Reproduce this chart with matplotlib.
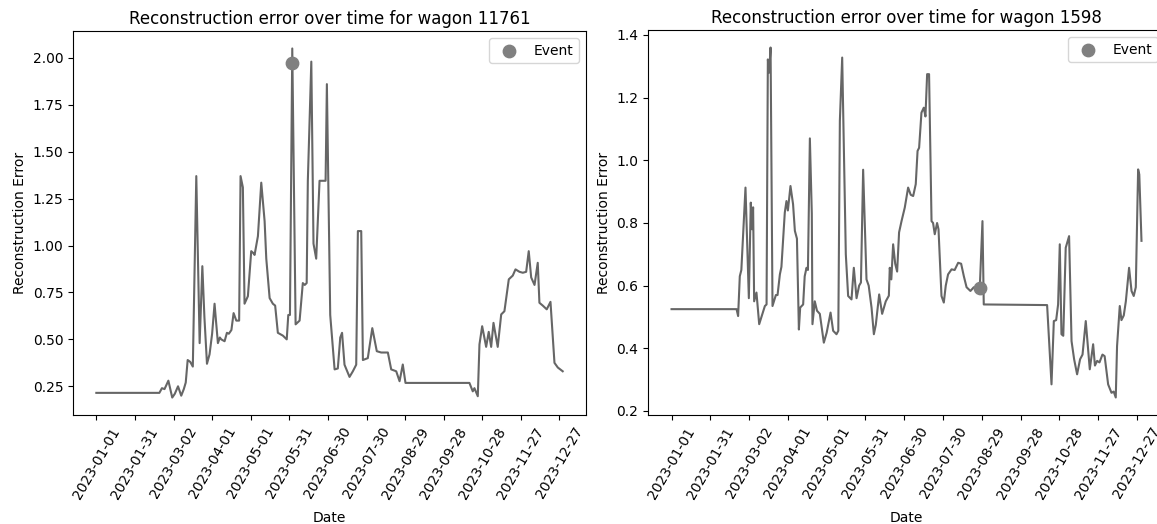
import matplotlib
matplotlib.use("Agg")
import matplotlib.pyplot as plt
import pandas as pd
import numpy as np

# ---- data (day offsets from 2023-01-01, reconstruction error) ----
start_date = "2023-01-01"

w1_title = "Reconstruction error over time for wagon 11761"
w1_days = [0, 49, 51, 53, 56, 59, 61, 63.5, 66, 68, 69.5, 71, 73, 75, 77.7, 80.3, 82.4, 84, 86, 88,
           90, 91.9, 93, 94.5, 96, 97.1, 99.7, 101.5, 103, 105, 106.7, 108.8, 111, 112.1, 113.9,
           115.2, 117.8, 120.4, 122, 123, 125.6, 128.2, 130.8, 132.1, 134.7, 137.2, 139, 141.1,
           145, 148, 149.2, 150.5, 152.3, 154.9, 158, 160.5, 162, 163.5, 164.4, 167.1, 168.8,
           170.9, 173.5, 178.2, 179.2, 181.8, 185.2, 187.7, 189.6, 191, 192.9, 196.8, 199.4, 202,
           203.3, 205.9, 207.2, 211, 214.5, 216.2, 218, 221.4, 226.6, 229.2, 233.1, 235.7, 238.2,
           240.3, 290, 292.6, 293.9, 296.5, 297.8, 299.9, 303, 305, 306.9, 308.7, 312, 314.7,
           317.2, 320.6, 323.7, 325.8, 328.9, 331.5, 334.1, 336.1, 338, 340.6, 343.1, 344.4, 347,
           350.1, 353, 356.1, 358.7, 362.5]
w1_vals = [0.215, 0.215, 0.24, 0.235, 0.28, 0.19, 0.21, 0.25, 0.20, 0.235, 0.27, 0.39, 0.38, 0.355,
           1.37, 0.48, 0.89, 0.62, 0.37, 0.42, 0.53, 0.69, 0.60, 0.48, 0.51, 0.50, 0.49, 0.535,
           0.53, 0.55, 0.64, 0.60, 0.60, 1.37, 1.31, 0.69, 0.73, 0.97, 0.96, 0.95, 1.05, 1.335,
           1.13, 0.93, 0.72, 0.69, 0.68, 0.535, 0.52, 0.50, 0.63, 0.63, 2.05, 0.58, 0.60, 0.80,
           0.79, 0.80, 1.345, 1.98, 1.01, 0.93, 1.345, 1.345, 1.86, 0.63, 0.34, 0.345, 0.51,
           0.535, 0.365, 0.30, 0.33, 0.365, 1.077, 1.077, 0.39, 0.40, 0.56, 0.50, 0.437, 0.43,
           0.43, 0.34, 0.33, 0.277, 0.366, 0.268, 0.268, 0.223, 0.24, 0.197, 0.473, 0.57, 0.46,
           0.54, 0.46, 0.588, 0.46, 0.633, 0.65, 0.82, 0.84, 0.873, 0.86, 0.855, 0.86, 0.97,
           0.83, 0.79, 0.908, 0.695, 0.68, 0.66, 0.70, 0.375, 0.35, 0.33]
w1_event_day = [152.1]
w1_event_val = [1.975]

w2_title = "Reconstruction error over time for wagon 1598"
w2_days = [0, 50.3, 51.5, 52.8, 54, 57.2, 59.8, 61.3, 62.2, 63.1, 63.9, 65.7, 67.8, 72.2, 73.5,
           74.5, 75.5, 76.6, 78.1, 80.7, 82, 83.8, 85, 87.6, 88.9, 90, 92, 94, 95.4, 97, 98.5,
           99.5, 101.8, 103, 104.4, 105.5, 107, 108.5, 109, 110.8, 112.5, 114.7, 117.8, 120,
           123, 125, 127.6, 129, 130.2, 132, 134.8, 136.6, 139.2, 141, 143.1, 145.1, 146.5,
           148.2, 150.8, 152.5, 154.7, 156.5, 158, 160.6, 162.9, 165.7, 168.1, 168.8, 170,
           171.4, 173, 174.5, 176, 177.9, 180.4, 183, 185, 186.9, 188.9, 190.3, 191.5, 193.3,
           195.1, 196.4, 197.7, 199.2, 201.1, 202.3, 203.6, 205.4, 206.5, 207.5, 208.8, 210.6,
           212.1, 213.9, 216.6, 219, 221.7, 224, 226.1, 228.2, 231.2, 233.8, 236, 238.4, 240.5,
           241.5, 290.5, 291.3, 293.9, 295.7, 297.5, 299, 300.3, 301.6, 303, 304.9, 307.5,
           309.4, 311.4, 313.7, 316, 317.9, 320.4, 322.2, 323.5, 326.1, 327.5, 329.2, 331,
           333.3, 335, 337.7, 340.3, 342, 343.6, 344.6, 346.7, 348, 349.8, 351.4, 353.9, 355.8,
           357.5, 359.1, 360.9, 361.8, 363.5]
w2_vals = [0.525, 0.525, 0.503, 0.63, 0.65, 0.913, 0.56, 0.865, 0.78, 0.85, 0.55, 0.578, 0.477,
           0.535, 0.54, 1.322, 1.28, 1.36, 0.535, 0.57, 0.57, 0.636, 0.66, 0.833, 0.87, 0.84,
           0.918, 0.86, 0.775, 0.75, 0.46, 0.53, 0.54, 0.63, 0.657, 0.65, 1.07, 0.83, 0.477,
           0.55, 0.52, 0.51, 0.418, 0.45, 0.514, 0.456, 0.445, 0.456, 1.126, 1.328, 0.70, 0.567,
           0.556, 0.657, 0.56, 0.60, 0.61, 0.97, 0.62, 0.60, 0.53, 0.445, 0.475, 0.572, 0.51,
           0.55, 0.568, 0.657, 0.62, 0.732, 0.67, 0.645, 0.77, 0.806, 0.849, 0.913, 0.89, 0.886,
           0.924, 1.03, 1.04, 1.152, 1.168, 1.14, 1.275, 1.275, 0.806, 0.80, 0.764, 0.80, 0.78,
           0.69, 0.567, 0.546, 0.60, 0.636, 0.652, 0.65, 0.673, 0.67, 0.63, 0.595, 0.583, 0.595,
           0.595, 0.59, 0.806, 0.54, 0.538, 0.477, 0.285, 0.487, 0.49, 0.54, 0.732, 0.445,
           0.44, 0.721, 0.758, 0.423, 0.365, 0.317, 0.365, 0.38, 0.487, 0.40, 0.333, 0.413,
           0.345, 0.36, 0.355, 0.38, 0.375, 0.285, 0.258, 0.262, 0.243, 0.407, 0.535, 0.49,
           0.505, 0.55, 0.657, 0.583, 0.567, 0.595, 0.971, 0.955, 0.743]
w2_event_day = [238.4]
w2_event_val = [0.592]

tick_labels = ["2023-01-01", "2023-01-31", "2023-03-02", "2023-04-01", "2023-05-01",
               "2023-05-31", "2023-06-30", "2023-07-30", "2023-08-29", "2023-09-28",
               "2023-10-28", "2023-11-27", "2023-12-27"]

LINE_C = "#666666"
EVT_C = "#808080"

base = pd.Timestamp(start_date)
def to_dates(days):
    return base + pd.to_timedelta(np.asarray(days, dtype=float), unit="D")

fig = plt.figure(figsize=(11.57, 5.24), dpi=100)
ax1 = fig.add_axes([0.0631, 0.208, 0.4434, 0.7328])
ax2 = fig.add_axes([0.5601, 0.208, 0.4468, 0.7347])

panels = [
    (ax1, w1_title, w1_days, w1_vals, w1_event_day, w1_event_val),
    (ax2, w2_title, w2_days, w2_vals, w2_event_day, w2_event_val),
]
for ax, title, d, v, ed, ev in panels:
    ax.plot(to_dates(d), v, color=LINE_C, linewidth=1.5)
    ax.scatter(to_dates(ed), ev, color=EVT_C, s=80, zorder=3, label="Event")
    ax.set_xticks(pd.to_datetime(tick_labels))
    ax.set_xticklabels(tick_labels, rotation=60)
    ax.set_title(title, pad=5)
    ax.set_xlabel("Date", labelpad=7)
    ax.set_ylabel("Reconstruction Error")
    ax.legend(loc="upper right")

fig.savefig("out.png", dpi=100)
